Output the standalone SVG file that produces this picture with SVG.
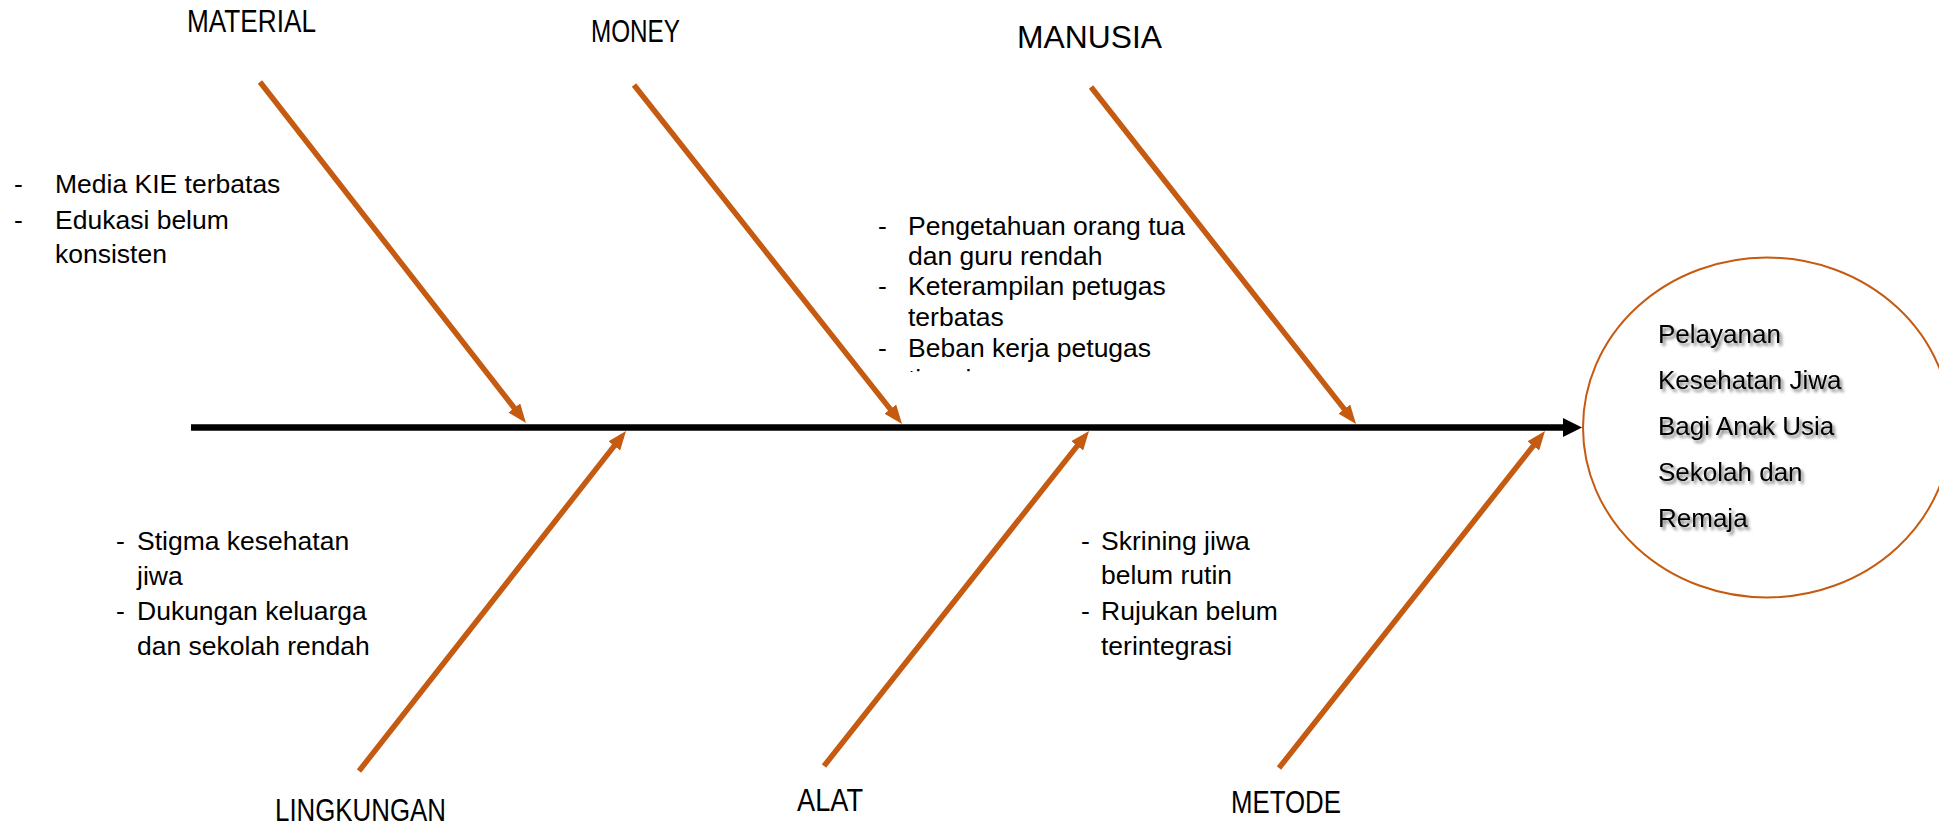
<svg xmlns="http://www.w3.org/2000/svg" width="1939" height="827" viewBox="0 0 1939 827">
  <defs>
    <style>
      .bone { stroke: #C55A11; stroke-width: 5.5; fill: none; marker-end: url(#headOrange); }
      .spine { stroke: #000; stroke-width: 6.5; fill: none; marker-end: url(#headBlack); }
      .cat { font-family: "Liberation Sans", Arial, sans-serif; font-size: 31px; fill: #000; }
      .note { font-family: "Liberation Sans", Arial, sans-serif; font-size: 26.5px; fill: #000; }
      .effect { font-family: "Liberation Sans", Arial, sans-serif; font-size: 26px; fill: #000; filter: url(#softShadow); }
    </style>
    <marker id="headOrange" viewBox="0 0 19 15" refX="7" refY="7.5" markerWidth="19" markerHeight="15" markerUnits="userSpaceOnUse" orient="auto">
      <path d="M0,0 L19,7.5 L0,15 Z" fill="#C55A11"/>
    </marker>
    <marker id="headBlack" viewBox="0 0 19 19" refX="1" refY="9.5" markerWidth="19" markerHeight="19" markerUnits="userSpaceOnUse" orient="auto">
      <path d="M0,0 L19,9.5 L0,19 Z" fill="#000"/>
    </marker>
    <filter id="softShadow" x="-10%" y="-30%" width="130%" height="170%">
      <feDropShadow dx="2.5" dy="3" stdDeviation="1.8" flood-color="#000" flood-opacity="0.5"/>
    </filter>
    <clipPath id="manusiaBox">
      <rect x="860" y="200" width="330" height="172"/>
    </clipPath>
  </defs>

  <rect width="1939" height="827" fill="#fff"/>

  <!-- effect (head of the fish) -->
  <g id="effect">
    <ellipse cx="1767" cy="427.5" rx="184" ry="170" fill="#fff" stroke="#C55A11" stroke-width="2"/>
    <text class="effect" x="1658" y="343">Pelayanan</text>
    <text class="effect" x="1658" y="389">Kesehatan Jiwa</text>
    <text class="effect" x="1658" y="435">Bagi Anak Usia</text>
    <text class="effect" x="1658" y="481">Sekolah dan</text>
    <text class="effect" x="1658" y="527">Remaja</text>
  </g>

  <!-- spine and cause bones -->
  <g id="connectors">
    <line class="spine" x1="191" y1="427.5" x2="1564" y2="427.5"/>
    <line class="bone" x1="260" y1="82" x2="518.6" y2="413.5"/>
    <line class="bone" x1="634" y1="85" x2="894.6" y2="414.6"/>
    <line class="bone" x1="1091" y1="87" x2="1348.6" y2="414.6"/>
    <line class="bone" x1="359" y1="771" x2="618.6" y2="440.4"/>
    <line class="bone" x1="824" y1="766" x2="1081.6" y2="440.4"/>
    <line class="bone" x1="1279" y1="768" x2="1537.6" y2="440.4"/>
  </g>

  <g id="material">
    <text class="cat" x="187" y="32" textLength="129" lengthAdjust="spacingAndGlyphs">MATERIAL</text>
    <text class="note" x="14" y="193">-</text>
    <text class="note" x="55" y="193">Media KIE terbatas</text>
    <text class="note" x="14" y="229">-</text>
    <text class="note" x="55" y="229">Edukasi belum</text>
    <text class="note" x="55" y="263">konsisten</text>
  </g>

  <g id="money">
    <text class="cat" x="591" y="42" textLength="89" lengthAdjust="spacingAndGlyphs">MONEY</text>
  </g>

  <g id="manusia">
    <text class="cat" x="1017" y="48" style="font-size:31.5px" textLength="145" lengthAdjust="spacingAndGlyphs">MANUSIA</text>
    <g clip-path="url(#manusiaBox)">
      <text class="note" x="878" y="235">-</text>
      <text class="note" x="908" y="235">Pengetahuan orang tua</text>
      <text class="note" x="908" y="265">dan guru rendah</text>
      <text class="note" x="878" y="295">-</text>
      <text class="note" x="908" y="295">Keterampilan petugas</text>
      <text class="note" x="908" y="326">terbatas</text>
      <text class="note" x="878" y="357">-</text>
      <text class="note" x="908" y="357">Beban kerja petugas</text>
      <text class="note" x="908" y="388">tinggi</text>
    </g>
  </g>

  <g id="lingkungan">
    <text class="cat" x="275" y="821" textLength="171" lengthAdjust="spacingAndGlyphs">LINGKUNGAN</text>
    <text class="note" x="116" y="550">-</text>
    <text class="note" x="137" y="550">Stigma kesehatan</text>
    <text class="note" x="137" y="585">jiwa</text>
    <text class="note" x="116" y="620">-</text>
    <text class="note" x="137" y="620">Dukungan keluarga</text>
    <text class="note" x="137" y="655">dan sekolah rendah</text>
  </g>

  <g id="alat">
    <text class="cat" x="797" y="811" textLength="66" lengthAdjust="spacingAndGlyphs">ALAT</text>
    <text class="note" x="1081" y="550">-</text>
    <text class="note" x="1101" y="550">Skrining jiwa</text>
    <text class="note" x="1101" y="584">belum rutin</text>
    <text class="note" x="1081" y="620">-</text>
    <text class="note" x="1101" y="620">Rujukan belum</text>
    <text class="note" x="1101" y="655">terintegrasi</text>
  </g>

  <g id="metode">
    <text class="cat" x="1231" y="813" textLength="110" lengthAdjust="spacingAndGlyphs">METODE</text>
  </g>
</svg>
